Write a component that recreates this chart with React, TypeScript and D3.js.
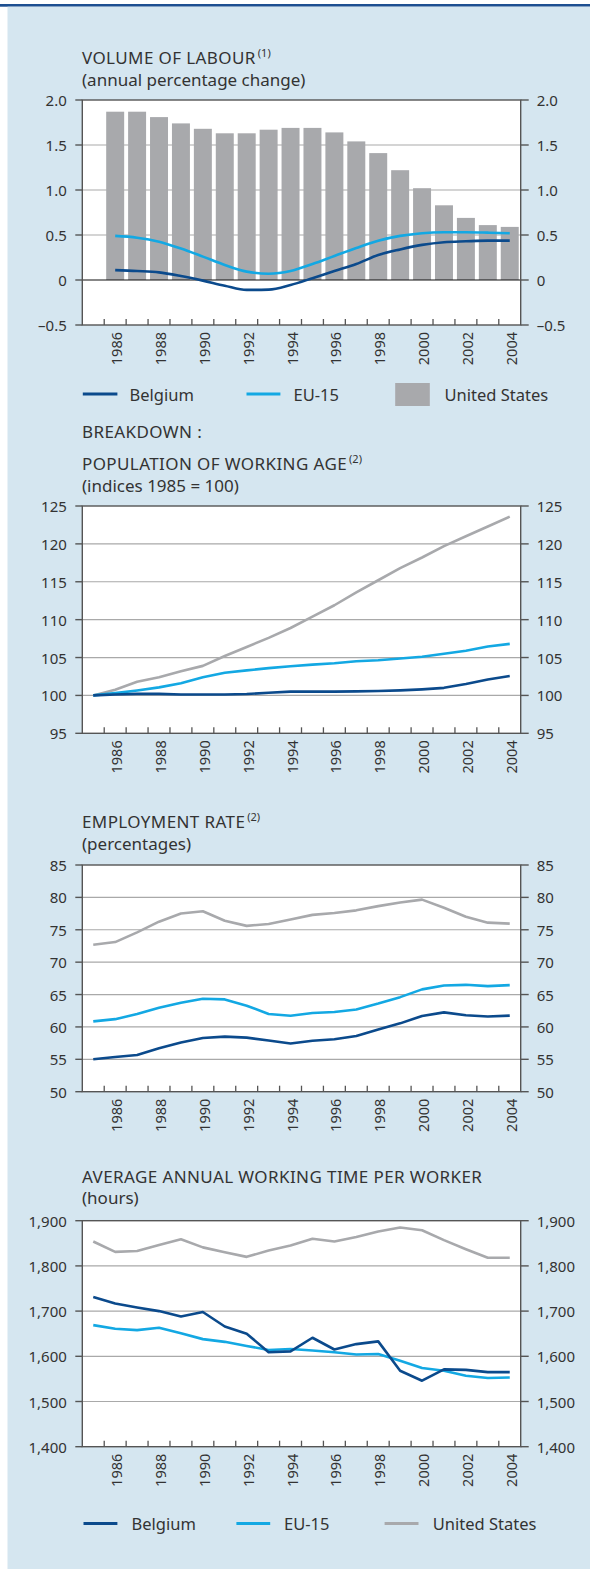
import React, { useEffect, useRef } from 'react';
import * as d3 from 'd3';

// categories
const years = [1985, 1986, 1987, 1988, 1989, 1990, 1991, 1992, 1993, 1994, 1995, 1996, 1997, 1998, 1999, 2000, 2001, 2002, 2003, 2004];
const barYears = [1986, 1987, 1988, 1989, 1990, 1991, 1992, 1993, 1994, 1995, 1996, 1997, 1998, 1999, 2000, 2001, 2002, 2003, 2004];
const yearLabels = [1986, 1988, 1990, 1992, 1994, 1996, 1998, 2000, 2002, 2004];

// volume of labour (annual % change), 1986-2004
const labourUS = [1.87, 1.87, 1.81, 1.74, 1.68, 1.63, 1.63, 1.67, 1.69, 1.69, 1.64, 1.54, 1.41, 1.22, 1.02, 0.83, 0.69, 0.61, 0.59];
const labourBE = [0.11, 0.1, 0.085, 0.044, -0.007, -0.063, -0.11, -0.107, -0.056, 0.02, 0.1, 0.178, 0.278, 0.34, 0.39, 0.42, 0.43, 0.437, 0.437];
const labourEU = [0.49, 0.47, 0.426, 0.35, 0.26, 0.167, 0.093, 0.07, 0.1, 0.178, 0.267, 0.356, 0.437, 0.49, 0.52, 0.53, 0.53, 0.526, 0.52];

// population of working age (1985 = 100)
const popBE = [100, 100.13, 100.2, 100.2, 100.13, 100.13, 100.13, 100.18, 100.35, 100.5, 100.5, 100.5, 100.53, 100.58, 100.66, 100.8, 101.0, 101.5, 102.1, 102.57];
const popEU = [100, 100.3, 100.66, 101.06, 101.6, 102.4, 103.0, 103.3, 103.6, 103.85, 104.07, 104.25, 104.5, 104.65, 104.87, 105.1, 105.5, 105.9, 106.45, 106.8];
const popUS = [100, 100.75, 101.8, 102.4, 103.2, 103.9, 105.2, 106.4, 107.6, 108.9, 110.4, 111.9, 113.6, 115.2, 116.8, 118.2, 119.7, 121.0, 122.3, 123.6];

// employment rate (%)
const empBE = [55.0, 55.35, 55.66, 56.7, 57.6, 58.3, 58.5, 58.35, 57.9, 57.45, 57.87, 58.1, 58.6, 59.6, 60.55, 61.7, 62.25, 61.8, 61.6, 61.75];
const empEU = [60.86, 61.2, 62.0, 62.97, 63.74, 64.36, 64.25, 63.28, 62.0, 61.73, 62.15, 62.3, 62.7, 63.6, 64.6, 65.8, 66.4, 66.5, 66.3, 66.45];
const empUS = [72.7, 73.1, 74.6, 76.25, 77.5, 77.85, 76.4, 75.6, 75.9, 76.6, 77.3, 77.6, 78.0, 78.65, 79.2, 79.65, 78.4, 77.0, 76.1, 75.95];

// average annual working time (hours)
const hoursBE = [1731, 1717, 1708, 1700, 1688, 1698, 1666, 1650, 1609, 1611, 1641, 1615, 1627, 1633, 1568, 1546, 1571, 1570, 1565, 1565];
const hoursEU = [1669, 1661, 1658, 1663, 1651, 1638, 1632, 1623, 1614, 1616, 1613, 1609, 1604, 1605, 1590, 1574, 1568, 1557, 1552, 1553];
const hoursUS = [1854, 1831, 1833, 1846, 1859, 1841, 1830, 1820, 1834, 1845, 1860, 1854, 1864, 1876, 1885, 1879, 1857, 1837, 1818, 1818];

const labourTicks = [-0.5, 0, 0.5, 1, 1.5, 2];
const popTicks = [95, 100, 105, 110, 115, 120, 125];
const empTicks = [50, 55, 60, 65, 70, 75, 80, 85];
const hoursTicks = [1400, 1500, 1600, 1700, 1800, 1900];

const W = 590;
const H = 1570;
const LEFT = 82.3;
const RIGHT = 520.7;
const BG = '#d5e6f0';
const C_BE = '#0b4a8c';
const C_EU = '#13a8e3';
const C_US = '#a8a9ac';
const FRAME = '#555555';
const GRID = '#a9a9a9';
const TXT = '#333333';
const FONT = '"Noto Sans", "Open Sans", sans-serif';

const App = () => {
  const svgRef = useRef<SVGSVGElement>(null);

  useEffect(() => {
    const svg = d3.select(svgRef.current);
    svg.selectAll('*').remove();
    svg.attr('width', W).attr('height', H).style('font-family', FONT);

    svg.append('rect').attr('width', W).attr('height', H).attr('fill', '#fff');
    svg.append('rect').attr('x', 0).attr('y', 4).attr('width', W).attr('height', 2.7).attr('fill', '#1d4f91');
    svg.append('rect').attr('x', 7.5).attr('y', 6.7).attr('width', W - 7.5).attr('height', H - 7.7).attr('fill', BG);

    const x = d3.scaleBand<number>().domain(years).range([LEFT, RIGHT]);
    const bw = x.bandwidth();
    const cx = (yr: number) => (x(yr) as number) + bw / 2;

    const title = (lines: { t: string; sup?: string; y: number; caps?: boolean }[]) => {
      lines.forEach((l) => {
        const t = svg
          .append('text')
          .attr('x', 82)
          .attr('y', l.y)
          .attr('fill', TXT)
          .style('font-size', '17px')
          .style('letter-spacing', l.caps ? '0.4px' : '0px');
        t.append('tspan').text(l.t);
        if (l.sup) {
          t.append('tspan').attr('dx', 2).attr('dy', -7).style('font-size', '11px').style('letter-spacing', '0px').text(l.sup);
        }
      });
    };

    const panel = (top: number, bottom: number, domain: number[], ticks: number[], fmt: (v: number) => string, zero: boolean) => {
      const y = d3.scaleLinear().domain(domain).range([bottom, top]);
      const g = svg.append('g');
      g.append('rect').attr('x', LEFT).attr('y', top).attr('width', RIGHT - LEFT).attr('height', bottom - top).attr('fill', '#fff');
      g.selectAll('line.grid')
        .data(ticks.filter((t) => t !== domain[0] && t !== domain[1] && !(zero && t === 0)))
        .enter()
        .append('line')
        .attr('x1', LEFT)
        .attr('x2', RIGHT)
        .attr('y1', (d) => y(d))
        .attr('y2', (d) => y(d))
        .attr('stroke', GRID)
        .attr('stroke-width', 1.2);
      const over = svg.append('g');
      const finish = () => {
        if (zero) {
          over.append('line').attr('x1', LEFT).attr('x2', RIGHT).attr('y1', y(0)).attr('y2', y(0)).attr('stroke', '#111').attr('stroke-width', 1.2);
        }
        over.append('rect').attr('x', LEFT).attr('y', top).attr('width', RIGHT - LEFT).attr('height', bottom - top)
          .attr('fill', 'none').attr('stroke', FRAME).attr('stroke-width', 1.4);
        // y ticks both sides
        ticks.forEach((t) => {
          const yy = y(t);
          over.append('line').attr('x1', LEFT - 7).attr('x2', LEFT).attr('y1', yy).attr('y2', yy).attr('stroke', FRAME).attr('stroke-width', 1.4);
          over.append('line').attr('x1', RIGHT).attr('x2', RIGHT + 8).attr('y1', yy).attr('y2', yy).attr('stroke', FRAME).attr('stroke-width', 1.4);
          over.append('text').attr('x', LEFT - 15.5).attr('y', yy).attr('text-anchor', 'end').attr('dominant-baseline', 'central')
            .attr('fill', TXT).style('font-size', '15px').text(fmt(t));
          over.append('text').attr('x', RIGHT + 16).attr('y', yy).attr('dominant-baseline', 'central')
            .attr('fill', TXT).style('font-size', '15px').text(fmt(t));
        });
        // x ticks inside, at band edges
        over.selectAll('line.xt')
          .data(barYears)
          .enter()
          .append('line')
          .attr('x1', (d) => x(d) as number)
          .attr('x2', (d) => x(d) as number)
          .attr('y1', bottom)
          .attr('y2', bottom - 6)
          .attr('stroke', FRAME)
          .attr('stroke-width', 1.3);
        over.selectAll('text.xl')
          .data(yearLabels)
          .enter()
          .append('text')
          .attr('transform', (d) => `translate(${cx(d) + 1},${bottom + 7}) rotate(-90)`)
          .attr('text-anchor', 'end')
          .attr('dominant-baseline', 'central')
          .attr('fill', TXT)
          .style('font-size', '14.5px')
          .text((d) => d);
      };
      return { g, y, finish };
    };

    const drawLine = (g: any, xs: number[], vals: number[], y: any, color: string, curve: any) => {
      const line = d3
        .line<number>()
        .x((_, i) => cx(xs[i]))
        .y((d) => y(d))
        .curve(curve);
      g.append('path').attr('d', line(vals)).attr('fill', 'none').attr('stroke', color).attr('stroke-width', 2.6)
        .attr('stroke-linejoin', 'round');
    };

    const fmtDec = (v: number) => (v === 0 ? '0' : v < 0 ? '\u2013' + d3.format('.1f')(-v) : d3.format('.1f')(v));
    const fmtInt = (v: number) => String(v);
    const fmtK = d3.format(',');

    // chart 1
    title([
      { t: 'VOLUME OF LABOUR', sup: '(1)', y: 64, caps: true },
      { t: '(annual percentage change)', y: 86 },
    ]);
    const p1 = panel(100, 325, [-0.5, 2], labourTicks, fmtDec, true);
    const barW = bw * 0.82;
    p1.g.selectAll('rect.bar')
      .data(labourUS)
      .enter()
      .append('rect')
      .attr('x', (_, i) => cx(barYears[i]) - barW / 2)
      .attr('width', barW)
      .attr('y', (d) => p1.y(d))
      .attr('height', (d) => p1.y(0) - p1.y(d))
      .attr('fill', C_US);
    p1.finish();
    const l1 = svg.append('g');
    drawLine(l1, barYears, labourEU, p1.y, C_EU, d3.curveMonotoneX);
    drawLine(l1, barYears, labourBE, p1.y, C_BE, d3.curveMonotoneX);

    // legend 1
    const leg1 = svg.append('g').style('font-size', '16.5px');
    leg1.append('line').attr('x1', 82.8).attr('x2', 117.4).attr('y1', 394).attr('y2', 394).attr('stroke', C_BE).attr('stroke-width', 3);
    leg1.append('text').attr('x', 129.5).attr('y', 394).attr('dominant-baseline', 'central').attr('fill', TXT).text('Belgium');
    leg1.append('line').attr('x1', 246.5).attr('x2', 280.4).attr('y1', 394).attr('y2', 394).attr('stroke', C_EU).attr('stroke-width', 3);
    leg1.append('text').attr('x', 293.5).attr('y', 394).attr('dominant-baseline', 'central').attr('fill', TXT).text('EU-15');
    leg1.append('rect').attr('x', 395.2).attr('y', 383).attr('width', 34.6).attr('height', 23).attr('fill', C_US);
    leg1.append('text').attr('x', 444.5).attr('y', 394).attr('dominant-baseline', 'central').attr('fill', TXT).text('United States');

    title([{ t: 'BREAKDOWN :', y: 438, caps: true }]);

    // chart 2
    title([
      { t: 'POPULATION OF WORKING AGE', sup: '(2)', y: 470, caps: true },
      { t: '(indices 1985 = 100)', y: 492 },
    ]);
    const p2 = panel(506, 733.3, [95, 125], popTicks, fmtInt, false);
    p2.finish();
    const l2 = svg.append('g');
    drawLine(l2, years, popUS, p2.y, C_US, d3.curveLinear);
    drawLine(l2, years, popEU, p2.y, C_EU, d3.curveLinear);
    drawLine(l2, years, popBE, p2.y, C_BE, d3.curveLinear);

    // chart 3
    title([
      { t: 'EMPLOYMENT RATE', sup: '(2)', y: 828, caps: true },
      { t: '(percentages)', y: 850 },
    ]);
    const p3 = panel(865, 1091.7, [50, 85], empTicks, fmtInt, false);
    p3.finish();
    const l3 = svg.append('g');
    drawLine(l3, years, empUS, p3.y, C_US, d3.curveLinear);
    drawLine(l3, years, empEU, p3.y, C_EU, d3.curveLinear);
    drawLine(l3, years, empBE, p3.y, C_BE, d3.curveLinear);

    // chart 4
    title([
      { t: 'AVERAGE ANNUAL WORKING TIME PER WORKER', y: 1183, caps: true },
      { t: '(hours)', y: 1204 },
    ]);
    const p4 = panel(1220.7, 1446.7, [1400, 1900], hoursTicks, fmtK, false);
    p4.finish();
    const l4 = svg.append('g');
    drawLine(l4, years, hoursUS, p4.y, C_US, d3.curveLinear);
    drawLine(l4, years, hoursEU, p4.y, C_EU, d3.curveLinear);
    drawLine(l4, years, hoursBE, p4.y, C_BE, d3.curveLinear);

    // legend 2
    const leg2 = svg.append('g').style('font-size', '16.5px');
    leg2.append('line').attr('x1', 83.5).attr('x2', 117.4).attr('y1', 1523.5).attr('y2', 1523.5).attr('stroke', C_BE).attr('stroke-width', 3);
    leg2.append('text').attr('x', 131.5).attr('y', 1523.5).attr('dominant-baseline', 'central').attr('fill', TXT).text('Belgium');
    leg2.append('line').attr('x1', 236.4).attr('x2', 270.2).attr('y1', 1523.5).attr('y2', 1523.5).attr('stroke', C_EU).attr('stroke-width', 3);
    leg2.append('text').attr('x', 284).attr('y', 1523.5).attr('dominant-baseline', 'central').attr('fill', TXT).text('EU-15');
    leg2.append('line').attr('x1', 384.6).attr('x2', 418.5).attr('y1', 1523.5).attr('y2', 1523.5).attr('stroke', C_US).attr('stroke-width', 3);
    leg2.append('text').attr('x', 432.7).attr('y', 1523.5).attr('dominant-baseline', 'central').attr('fill', TXT).text('United States');
  }, []);

  return <svg ref={svgRef} style={{ position: 'absolute', left: 0, top: 0, display: 'block' }}></svg>;
};

export default App;
